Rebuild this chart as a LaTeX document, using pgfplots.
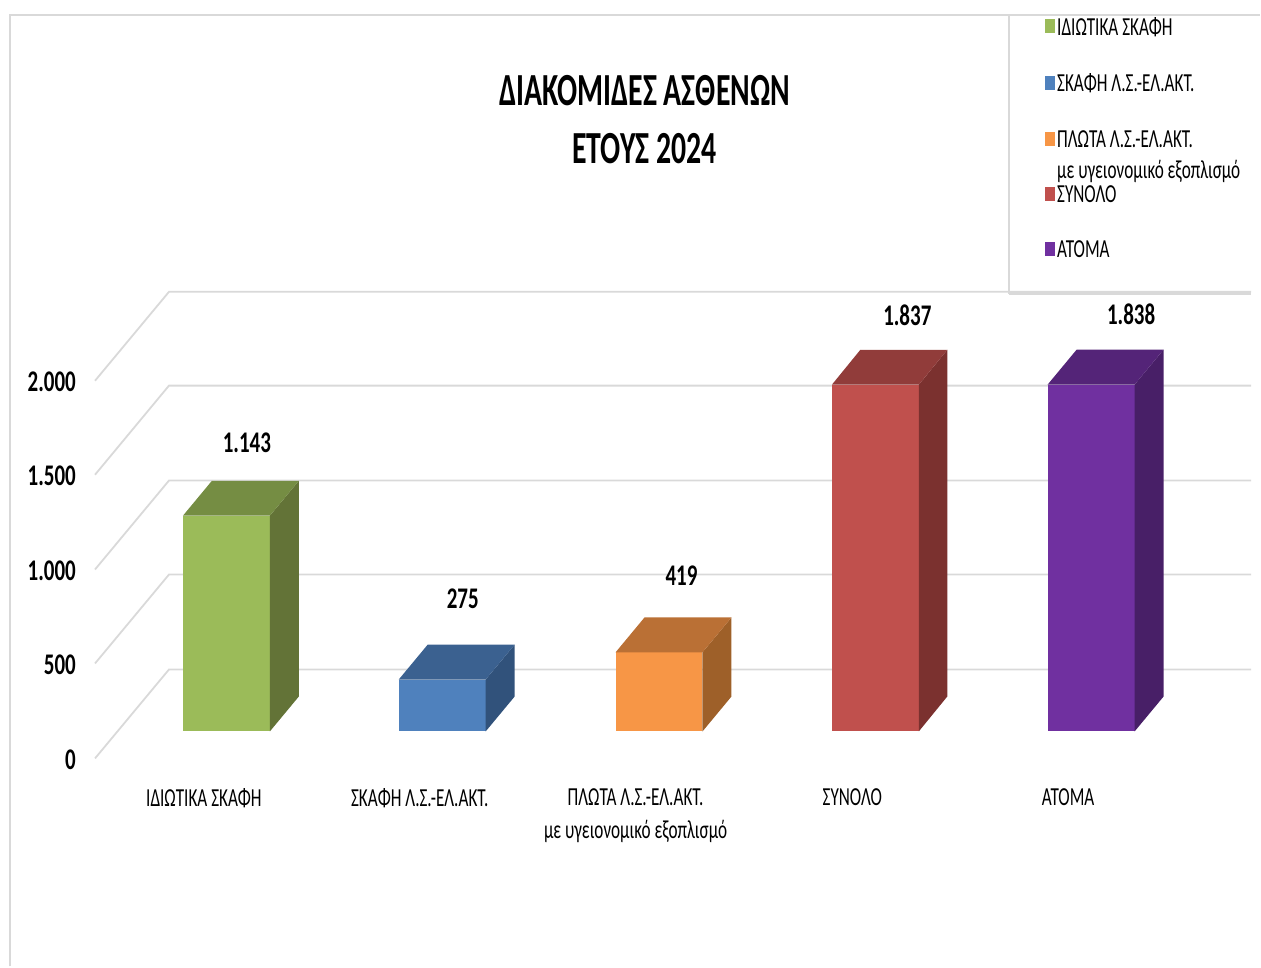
\documentclass[border=0pt]{standalone}
\usepackage{fontspec}
\setmainfont[FakeStretch=0.70]{Carlito}
\newfontfamily\cf[FakeStretch=0.66]{Carlito}
\newfontfamily\tf[FakeStretch=0.648]{Carlito}
\usepackage{pgfplots}
\pgfplotsset{compat=1.18}
\definecolor{gridg}{HTML}{D9D9D9}
\definecolor{gA}{HTML}{9BBB59}\definecolor{gB}{HTML}{758D43}\definecolor{gC}{HTML}{637337}
\definecolor{bA}{HTML}{4F81BD}\definecolor{bB}{HTML}{3B6190}\definecolor{bC}{HTML}{31527B}
\definecolor{oA}{HTML}{F79646}\definecolor{oB}{HTML}{BA7035}\definecolor{oC}{HTML}{9E6029}
\definecolor{rA}{HTML}{C0504D}\definecolor{rB}{HTML}{913C3A}\definecolor{rC}{HTML}{7B312F}
\definecolor{pA}{HTML}{7030A0}\definecolor{pB}{HTML}{542478}\definecolor{pC}{HTML}{481F67}
\newcommand{\sz}[1]{\fontsize{#1}{#1}\selectfont}
\begin{document}
\begin{tikzpicture}
\begin{axis}[
  scale only axis, width=1261pt, height=967pt,
  xmin=0, xmax=1261, ymin=-1244.3, ymax=3874.8,
  axis line style={draw=none},
  major tick length=0pt, minor tick length=0pt,
  clip=false,
  title={\tf\sz{46}\bfseries ΔΙΑΚΟΜΙΔΕΣ ΑΣΘΕΝΩΝ\\[26pt]\tf\sz{46}\bfseries ΕΤΟΥΣ 2024},
  title style={at={(0.5115,0.870)}, anchor=center, align=center, inner sep=0pt},
  ytick={-148,355,853,1355,1853},
  yticklabels={0,500,{1.000},{1.500},{2.000}},
  y tick label style={font=\sz{30}\bfseries, anchor=east, xshift=76pt, inner sep=0pt},
  xtick={204,420,636,853,1069},
  xticklabels={ΙΔΙΩΤΙΚΑ ΣΚΑΦΗ,ΣΚΑΦΗ Λ.Σ.-ΕΛ.ΑΚΤ.,{ΠΛΩΤΑ Λ.Σ.-ΕΛ.ΑΚΤ.\\[7pt]με υγειονομικό εξοπλισμό},ΣΥΝΟΛΟ,ΑΤΟΜΑ},
  x tick label style={font=\cf\sz{26}, anchor=north, align=center, yshift=178pt, inner sep=0pt},
  legend cell align=left,
  legend style={at={(axis cs:1046,3793)}, anchor=north west, draw=none, fill=none,
    font=\cf\sz{26}, row sep=33pt, inner sep=0pt, outer sep=0pt,
    /tikz/every even column/.append style={column sep=4.5pt}},
  legend image code/.code={\fill[#1] (0pt,-6pt) rectangle (10pt,8pt);},
]
% frame
\draw[gridg, line width=2pt] (axis cs:9.5,-1244.3) -- (axis cs:9.5,3795.7) -- (axis cs:1261,3795.7);
\draw[gridg, line width=2pt] (axis cs:1010,3795.7) -- (axis cs:1010,2319);
\draw[gridg, line width=3pt] (axis cs:1010,2319) -- (axis cs:1252,2319);
% walls
\foreach \f/\b in {-143/328,360/831,858/1329,1360/1832,1858/2329}{
  \edef\tmp{\noexpand\draw[gridg, line width=1.8pt] (axis cs:95,\f) -- (axis cs:169,\b) -- (axis cs:1252,\b);}
  \tmp
}
% bars
\addplot[ybar, bar width=87pt, bar shift=0pt, fill=gA, draw=none] coordinates {(226.5,1143)};
\addlegendentry{ΙΔΙΩΤΙΚΑ ΣΚΑΦΗ}
\addplot[ybar, bar width=87pt, bar shift=0pt, fill=bA, draw=none] coordinates {(442.5,275)};
\addlegendentry{ΣΚΑΦΗ Λ.Σ.-ΕΛ.ΑΚΤ.}
\addplot[ybar, bar width=87pt, bar shift=0pt, fill=oA, draw=none] coordinates {(659.5,419)};
\addlegendentry{\rlap{\smash{\raisebox{-31pt}{με υγειονομικό εξοπλισμό}}}ΠΛΩΤΑ Λ.Σ.-ΕΛ.ΑΚΤ.}
\addplot[ybar, bar width=87pt, bar shift=0pt, fill=rA, draw=none] coordinates {(876,1837)};
\addlegendentry{ΣΥΝΟΛΟ}
\addplot[ybar, bar width=87pt, bar shift=0pt, fill=pA, draw=none] coordinates {(1092,1838)};
\addlegendentry{ΑΤΟΜΑ}
% side faces
\addplot[forget plot, fill=gC, draw=none] coordinates {(270,0)(299,185)(299,1328)(270,1143)} -- cycle;
\addplot[forget plot, fill=gB, draw=none] coordinates {(183,1143)(212,1328)(299,1328)(270,1143)} -- cycle;
\addplot[forget plot, fill=bC, draw=none] coordinates {(486,0)(515,185)(515,460)(486,275)} -- cycle;
\addplot[forget plot, fill=bB, draw=none] coordinates {(399,275)(428,460)(515,460)(486,275)} -- cycle;
\addplot[forget plot, fill=oC, draw=none] coordinates {(703,0)(732,185)(732,604)(703,419)} -- cycle;
\addplot[forget plot, fill=oB, draw=none] coordinates {(616,419)(645,604)(732,604)(703,419)} -- cycle;
\addplot[forget plot, fill=rC, draw=none] coordinates {(919.5,0)(948,185)(948,2022)(919.5,1837)} -- cycle;
\addplot[forget plot, fill=rB, draw=none] coordinates {(832.5,1837)(861,2022)(948,2022)(919.5,1837)} -- cycle;
\addplot[forget plot, fill=pC, draw=none] coordinates {(1135.5,0)(1164.5,185)(1164.5,2023)(1135.5,1838)} -- cycle;
\addplot[forget plot, fill=pB, draw=none] coordinates {(1048.5,1838)(1077.5,2023)(1164.5,2023)(1135.5,1838)} -- cycle;
% data labels
\begin{scope}[every node/.style={font=\sz{30}\bfseries, inner sep=0pt}]
\node at (axis cs:247,1528) {1.143};
\node at (axis cs:463,702) {275};
\node at (axis cs:682,826) {419};
\node at (axis cs:908,2207) {1.837};
\node at (axis cs:1132,2212) {1.838};
\end{scope}
\end{axis}
\end{tikzpicture}
\end{document}
